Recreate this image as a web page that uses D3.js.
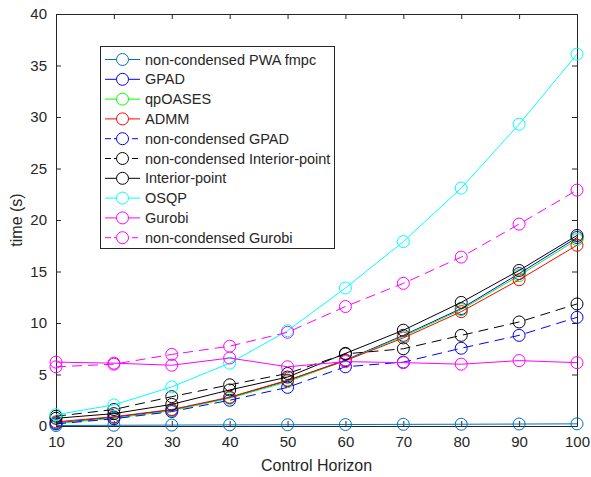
<!DOCTYPE html>
<html lang="en">
  <head>
    <meta charset="UTF-8">
    <title>Control Horizon vs time</title>
    <style>
      body { margin: 0; background: #fff; }
      svg text { font-family: "Liberation Sans", Arial, sans-serif; fill: #262626; }
    </style>
  </head>
  <body>
    <div id="chart"></div>
    <script src="https://d3js.org/d3.v7.min.js"></script>
    <script>
      // horizons on the x axis
      const horizons = [10, 20, 30, 40, 50, 60, 70, 80, 90, 100];
      const xTicks = [10, 20, 30, 40, 50, 60, 70, 80, 90, 100];
      const yTicks = [0, 5, 10, 15, 20, 25, 30, 35, 40];

      // solve time (s) per solver
      const pwaFmpc = [0.05, 0.07, 0.09, 0.11, 0.12, 0.14, 0.16, 0.17, 0.19, 0.21];
      const gpad = [0.3, 0.85, 1.55, 2.75, 4.4, 6.4, 8.8, 11.4, 14.8, 18.3];
      const qpoases = [0.25, 0.75, 1.5, 2.7, 4.3, 6.35, 8.7, 11.3, 14.6, 18.1];
      const admm = [0.4, 0.9, 1.6, 2.8, 4.45, 6.35, 8.55, 11.1, 14.2, 17.55];
      const ncGpad = [0.2, 0.7, 1.4, 2.5, 3.75, 5.75, 6.2, 7.55, 8.8, 10.55];
      const ncInterior = [0.95, 1.6, 2.85, 4.0, 5.1, 7.0, 7.5, 8.8, 10.1, 11.85];
      const interior = [0.75, 1.2, 2.1, 3.5, 4.75, 7.05, 9.3, 12.0, 15.1, 18.5];
      const osqp = [1.1, 2.05, 3.8, 6.1, 9.25, 13.4, 17.9, 23.1, 29.3, 36.1];
      const gurobi = [6.2, 6.1, 5.9, 6.6, 5.75, 6.25, 6.15, 6.0, 6.35, 6.15];
      const ncGurobi = [5.75, 6.0, 6.95, 7.75, 9.1, 11.6, 13.85, 16.4, 19.6, 22.9];

      const series = [
        { name: "non-condensed PWA fmpc", values: pwaFmpc, color: "#0072bd", dash: null },
        { name: "GPAD", values: gpad, color: "#0000ff", dash: null },
        { name: "qpOASES", values: qpoases, color: "#00ff00", dash: null },
        { name: "ADMM", values: admm, color: "#ff0000", dash: null },
        { name: "non-condensed GPAD", values: ncGpad, color: "#0000ff", dash: "10,6" },
        { name: "non-condensed Interior-point", values: ncInterior, color: "#000000", dash: "10,6" },
        { name: "Interior-point", values: interior, color: "#000000", dash: null },
        { name: "OSQP", values: osqp, color: "#00ffff", dash: null },
        { name: "Gurobi", values: gurobi, color: "#ff00ff", dash: null },
        { name: "non-condensed Gurobi", values: ncGurobi, color: "#ff00ff", dash: "10,6" }
      ];

      const W = 591, H = 477;
      const margin = { top: 14, right: 14, bottom: 51, left: 56 };
      const width = W - margin.left - margin.right;
      const height = H - margin.top - margin.bottom;

      const svg = d3.select("#chart").append("svg")
        .attr("width", W)
        .attr("height", H);

      const g = svg.append("g")
        .attr("transform", "translate(" + margin.left + "," + margin.top + ")");

      const x = d3.scaleLinear().domain([10, 100]).range([0, width]);
      const y = d3.scaleLinear().domain([0, 40]).range([height, 0]);

      // axes, MATLAB style: ticks inside, box on all sides
      const axisColor = "#262626";
      function styleAxis(sel) {
        sel.select(".domain").attr("stroke", axisColor);
        sel.selectAll(".tick line").attr("stroke", axisColor);
        sel.selectAll(".tick text").style("font-size", "15px").attr("fill", axisColor);
      }

      g.append("g")
        .attr("transform", "translate(0," + height + ")")
        .call(d3.axisBottom(x).tickValues(xTicks).tickSizeInner(-5).tickSizeOuter(0).tickPadding(10))
        .call(styleAxis);
      g.append("g")
        .call(d3.axisTop(x).tickValues(xTicks).tickSizeInner(-5).tickSizeOuter(0).tickFormat(""))
        .call(styleAxis);
      g.append("g")
        .call(d3.axisLeft(y).tickValues(yTicks).tickSizeInner(-5).tickSizeOuter(0).tickPadding(9))
        .call(styleAxis);
      g.append("g")
        .attr("transform", "translate(" + width + ",0)")
        .call(d3.axisRight(y).tickValues(yTicks).tickSizeInner(-5).tickSizeOuter(0).tickFormat(""))
        .call(styleAxis);

      // axis labels
      svg.append("text")
        .attr("x", margin.left + width / 2)
        .attr("y", 471)
        .attr("text-anchor", "middle")
        .style("font-size", "16px")
        .text("Control Horizon");

      svg.append("text")
        .attr("transform", "translate(22," + (margin.top + height / 2) + ") rotate(-90)")
        .attr("text-anchor", "middle")
        .style("font-size", "16px")
        .text("time (s)");

      // lines and markers
      const line = d3.line()
        .x((d, i) => x(horizons[i]))
        .y(d => y(d));

      series.forEach(function (s) {
        const sg = g.append("g");
        sg.append("path")
          .datum(s.values)
          .attr("fill", "none")
          .attr("stroke", s.color)
          .attr("stroke-width", 1)
          .attr("stroke-dasharray", s.dash)
          .attr("d", line);
        sg.selectAll("circle")
          .data(s.values)
          .enter()
          .append("circle")
          .attr("cx", (d, i) => x(horizons[i]))
          .attr("cy", d => y(d))
          .attr("r", 6)
          .attr("fill", "none")
          .attr("stroke", s.color)
          .attr("stroke-width", 1);
      });

      // legend
      const leg = svg.append("g").attr("transform", "translate(100,46)");
      leg.append("rect")
        .attr("x", 0.5)
        .attr("y", 0.5)
        .attr("width", 234)
        .attr("height", 202)
        .attr("fill", "#fff")
        .attr("stroke", axisColor)
        .attr("stroke-width", 1);

      const rows = leg.selectAll(".row")
        .data(series)
        .enter()
        .append("g")
        .attr("transform", (d, i) => "translate(0," + (13.5 + i * 19.8) + ")");
      rows.append("line")
        .attr("x1", 5).attr("x2", 40)
        .attr("stroke", d => d.color)
        .attr("stroke-width", 1)
        .attr("stroke-dasharray", d => d.dash ? "6,3" : null);
      rows.append("circle")
        .attr("cx", 22.5)
        .attr("r", 6)
        .attr("fill", "#fff")
        .attr("stroke", d => d.color);
      rows.append("text")
        .attr("x", 45)
        .attr("dy", "0.35em")
        .style("font-size", "14.5px")
        .text(d => d.name);
    </script>
  </body>
</html>
